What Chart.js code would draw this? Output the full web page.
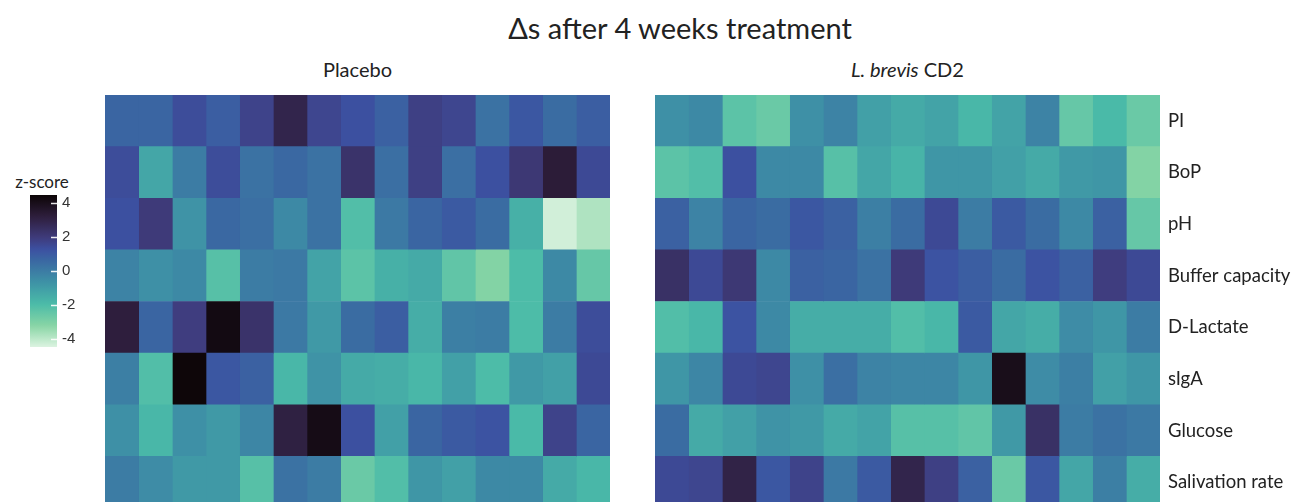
<!DOCTYPE html>
<html>
<head>
<meta charset="utf-8">
<script src="https://cdn.jsdelivr.net/npm/chart.js@4/dist/chart.umd.min.js"></script>
<style>
  html, body { margin: 0; padding: 0; background: #fff; overflow: hidden; }
  #page { position: relative; width: 1299px; height: 520px; font-family: Lato, "Open Sans", sans-serif; color: #222; }
  .txt { position: absolute; white-space: nowrap; text-align: center; }
  canvas { position: absolute; }
</style>
</head>
<body>
<div id="page">
  <div class="txt" id="mainTitle" style="left:480px; width:400px; top:10px; font-size:29px;">Δs after 4 weeks treatment</div>
  <div class="txt" style="left:105px; width:505px; top:57px; font-size:20px;">Placebo</div>
  <div class="txt" style="left:655px; width:505px; top:57px; font-size:20px;"><i>L. brevis</i> CD2</div>
  <div class="txt" style="left:6px; width:72px; top:171px; font-size:17px;">z-score</div>

  <canvas id="cbar" width="100" height="152" style="left:0px; top:195px;"></canvas>
  <canvas id="placebo" width="505" height="413" style="left:105px; top:95px;"></canvas>
  <canvas id="brevis" width="644" height="413" style="left:655px; top:95px;"></canvas>
</div>

<script>
// Measured outcomes (rows) and the z-score scale
const outcomes = ['PI', 'BoP', 'pH', 'Buffer capacity', 'D-Lactate', 'sIgA', 'Glucose', 'Salivation rate'];
const subjects = 15;
const zTicks = [4, 2, 0, -2, -4];
const zRange = [-4.47, 4.47];

// Change in z-score per outcome, one value per participant
const placeboPI        = [0.7, 0.7, 1.4, 0.9, 1.7, 2.9, 1.6, 1.3, 0.8, 1.8, 1.6, 0.3, 1.1, 0.5, 0.9];
const placeboBoP       = [1.4, -1.3, 0.0, 1.4, 0.3, 0.6, 0.3, 2.3, 0.4, 1.8, 0.4, 1.3, 2.1, 3.3, 1.5];
const placeboPH        = [1.3, 2.0, -0.7, 0.6, 0.4, -0.4, 0.3, -2.1, 0.1, 0.7, 1.0, 0.5, -1.6, -4.3, -3.8];
const placeboBuffer    = [-0.2, -0.6, -0.4, -2.2, 0.0, 0.1, -1.2, -2.3, -1.6, -1.4, -2.4, -3.1, -2.0, -0.4, -2.5];
const placeboLactate   = [3.2, 0.7, 1.9, 4.2, 2.3, 0.1, -0.9, 0.5, 0.9, -1.5, -0.1, 0.0, -2.0, 0.0, 1.4];
const placeboSIgA      = [-0.1, -2.1, 4.4, 1.1, 0.8, -1.8, -0.7, -1.4, -1.5, -1.8, -1.1, -2.0, -0.9, -1.1, 1.5];
const placeboGlucose   = [-0.6, -1.8, -0.6, -0.9, -0.3, 3.1, 4.1, 1.3, -1.1, 0.7, 1.0, 1.2, -1.9, 1.7, 0.7];
const placeboSalivation = [0.0, -0.5, -0.9, -0.9, -2.2, 0.3, 0.0, -2.6, -2.1, -0.8, -1.1, -0.4, -0.4, -1.4, -1.8];

const brevisPI         = [-0.6, -0.4, -2.3, -2.6, -0.6, -0.2, -1.1, -1.4, -1.2, -1.8, -1.2, -0.2, -2.5, -1.9, -2.6];
const brevisBoP        = [-2.3, -2.1, 1.3, -0.4, -0.4, -2.2, -1.3, -1.7, -0.8, -0.8, -1.1, -1.4, -0.9, -0.8, -3.1];
const brevisPH         = [0.8, -0.2, 0.7, 0.5, 1.1, 0.8, -0.1, 0.5, 1.5, 0.0, 1.0, 0.5, -0.4, 0.8, -2.5];
const brevisBuffer     = [2.4, 1.5, 2.1, -0.4, 0.8, 0.7, 0.3, 2.0, 1.2, 0.9, 0.5, 1.2, 0.8, 1.9, 1.5];
const brevisLactate    = [-2.1, -1.8, 1.2, -0.4, -1.5, -1.5, -1.5, -2.1, -1.8, 1.0, -1.3, -1.5, -0.5, -0.8, 0.0];
const brevisSIgA       = [-0.8, -0.3, 1.5, 1.6, -0.6, 0.4, -0.2, -0.3, -0.3, -0.8, 4.0, -0.5, -0.1, -1.1, -0.8];
const brevisGlucose    = [0.5, -1.4, -1.1, -0.7, -0.9, -1.4, -1.2, -2.2, -2.2, -2.4, -0.9, 2.4, 0.0, 0.3, 0.1];
const brevisSalivation = [1.5, 1.6, 3.0, 1.1, 1.7, 0.1, 1.0, 2.9, 1.8, 0.8, -2.6, 1.1, -1.3, -0.1, -1.5];

const placeboRows = [placeboPI, placeboBoP, placeboPH, placeboBuffer, placeboLactate, placeboSIgA, placeboGlucose, placeboSalivation];
const brevisRows  = [brevisPI, brevisBoP, brevisPH, brevisBuffer, brevisLactate, brevisSIgA, brevisGlucose, brevisSalivation];

// Dark-to-mint colour ramp: high z-scores are near black, low ones pale mint
const ramp = [
  [4.5,  [11, 4, 5]],
  [3.21, [46, 30, 60]],
  [1.93, [63, 60, 125]],
  [1.26, [60, 81, 162]],
  [0.64, [58, 103, 162]],
  [-0.64, [62, 145, 166]],
  [-1.93, [74, 187, 168]],
  [-3.21, [136, 213, 165]],
  [-4.5, [222, 244, 226]]
];

function zColor(v) {
  if (v >= ramp[0][0]) return 'rgb(' + ramp[0][1].join(',') + ')';
  for (let i = 1; i < ramp.length; i++) {
    const [v0, c0] = ramp[i - 1];
    const [v1, c1] = ramp[i];
    if (v >= v1) {
      const t = (v0 - v) / (v0 - v1);
      const c = c0.map((x, k) => Math.round(x + (c1[k] - x) * t));
      return 'rgb(' + c.join(',') + ')';
    }
  }
  return 'rgb(' + ramp[ramp.length - 1][1].join(',') + ')';
}

const labelFont = { family: 'Lato', size: 18.5 };

// Keep the axis from reserving room above and below the rows
function noEdgePadding(s) {
  s.paddingTop = 0;
  s.paddingBottom = 0;
}

// Each participant is a dataset; every cell is a floating bar spanning one column
function heatmapDatasets(rows) {
  const sets = [];
  for (let c = 0; c < subjects; c++) {
    sets.push({
      data: rows.map(() => [c, c + 1]),
      backgroundColor: rows.map(r => zColor(r[c])),
      borderWidth: 0,
      grouped: false,
      barPercentage: 1,
      categoryPercentage: 1
    });
  }
  return sets;
}

function heatmap(id, rows, withLabels) {
  return new Chart(document.getElementById(id), {
    type: 'bar',
    data: { labels: outcomes, datasets: heatmapDatasets(rows) },
    options: {
      indexAxis: 'y',
      responsive: false,
      animation: false,
      layout: { padding: 0 },
      plugins: { legend: { display: false }, tooltip: { enabled: false }, title: { display: false } },
      scales: {
        x: { type: 'linear', min: 0, max: subjects, display: false },
        y: withLabels ? {
          position: 'right',
          grid: { display: false, drawTicks: false },
          border: { display: false },
          ticks: { color: '#222', font: labelFont, padding: 8 },
          afterFit: s => { s.width = 139; noEdgePadding(s); }
        } : { display: false }
      }
    }
  });
}

heatmap('placebo', placeboRows, false);
heatmap('brevis', brevisRows, true);

// Colour bar for the z-score scale
const tickMarks = {
  id: 'tickMarks',
  afterDatasetsDraw(chart) {
    const { ctx, chartArea } = chart;
    const y = chart.scales.y;
    ctx.save();
    ctx.strokeStyle = 'rgba(255,255,255,0.9)';
    ctx.lineWidth = 1.5;
    zTicks.forEach(v => {
      const py = Math.round(y.getPixelForValue(v)) + 0.5;
      ctx.beginPath();
      ctx.moveTo(chartArea.right - 6, py);
      ctx.lineTo(chartArea.right, py);
      ctx.stroke();
    });
    ctx.restore();
  }
};

new Chart(document.getElementById('cbar'), {
  type: 'bar',
  data: {
    labels: ['z-score'],
    datasets: [{
      data: [zRange],
      borderWidth: 0,
      barPercentage: 1,
      categoryPercentage: 1,
      backgroundColor: (ctx) => {
        const chart = ctx.chart;
        const area = chart.chartArea;
        if (!area) return '#888';
        const y = chart.scales.y;
        const top = y.getPixelForValue(zRange[1]);
        const bottom = y.getPixelForValue(zRange[0]);
        const g = chart.ctx.createLinearGradient(0, top, 0, bottom);
        for (let i = 0; i <= 40; i++) {
          const v = zRange[1] - (zRange[1] - zRange[0]) * i / 40;
          g.addColorStop(i / 40, zColor(v));
        }
        return g;
      }
    }]
  },
  options: {
    responsive: false,
    animation: false,
    layout: { padding: { left: 30, top: 0, bottom: 0, right: 0 } },
    plugins: { legend: { display: false }, tooltip: { enabled: false } },
    scales: {
      x: { display: false },
      y: {
        position: 'right',
        min: zRange[0],
        max: zRange[1],
        grid: { display: false, drawTicks: false },
        border: { display: false },
        afterBuildTicks: s => { s.ticks = zTicks.map(v => ({ value: v })); },
        afterFit: s => { s.width = 43; noEdgePadding(s); },
        ticks: { color: '#333', padding: 5, font: { family: 'Liberation Sans', size: 15 } }
      }
    }
  },
  plugins: [tickMarks]
});
</script>
</body>
</html>
